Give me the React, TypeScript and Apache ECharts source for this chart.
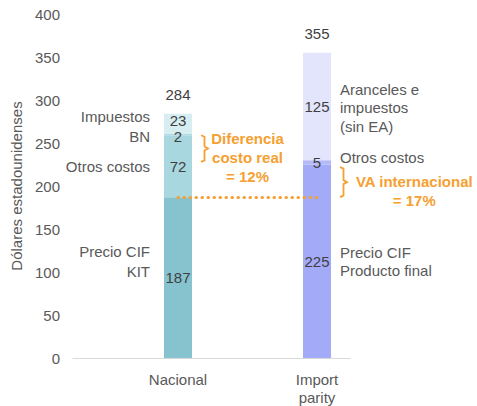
import React, { useEffect, useRef } from "react";
import * as echarts from "echarts";

// Cost build-up per route (US$), stacked bottom to top
const categories = ["Nacional", "Import\nparity"];
const nacionalSegments = ["Precio CIF KIT", "Otros costos", "BN", "Impuestos"];
const nacionalValues = [187, 72, 2, 23];
const importSegments = ["Precio CIF Producto final", "Otros costos", "Aranceles e impuestos (sin EA)"];
const importValues = [225, 5, 125];
const yAxisName = "Dólares estadounidenses";
const yMin = 0;
const yMax = 400;
const yStep = 50;

const nacionalColors = ["#86c3ce", "#a9d7df", "#b2dce3", "#d6edf1"];
const importColors = ["#a3abf8", "#b3b9f9", "#e3e5fd"];

const FONT = "'Liberation Sans', Arial, Helvetica, sans-serif";
const GRAY = "#595959";
const DARK = "#3f3f3f";
const ORANGE = "#f5a030";
const FS = 15;

const sum = (a: number[]) => a.reduce((s, v) => s + v, 0);
const totals = [sum(nacionalValues), sum(importValues)];

export default function App() {
  const ref = useRef<HTMLDivElement>(null);

  useEffect(() => {
    if (!ref.current) return;
    const chart = echarts.init(ref.current, null, { renderer: "svg" });

    // the two thin top segments of the Nacional bar spread their values apart
    const nacionalLabelShift = [0, 0, 2.5, -3];

    const levels = Math.max(nacionalValues.length, importValues.length);
    const stackSeries = Array.from({ length: levels }, (_, i) => ({
      type: "bar",
      name: `${nacionalSegments[i] ?? ""} / ${importSegments[i] ?? ""}`,
      xAxisIndex: 1,
      yAxisIndex: 1,
      stack: "total",
      barWidth: 28,
      data: [
        nacionalValues[i] != null
          ? {
              value: nacionalValues[i],
              itemStyle: { color: nacionalColors[i] },
              label: { offset: [0, nacionalLabelShift[i] ?? 0] },
            }
          : "-",
        importValues[i] != null
          ? { value: importValues[i], itemStyle: { color: importColors[i] } }
          : "-",
      ],
      label: {
        show: true,
        position: "inside",
        formatter: (p: any) => String(p.value),
        color: DARK,
        fontSize: FS,
        fontFamily: FONT,
        lineHeight: 14,
      },
      emphasis: { disabled: true },
    }));

    // Zero-height cap carrying the totals and the CIF reference line
    const totalSeries = {
      type: "bar",
      name: "Total",
      xAxisIndex: 1,
      yAxisIndex: 1,
      stack: "total",
      barWidth: 28,
      data: categories.map(() => 0),
      itemStyle: { color: "rgba(0,0,0,0)" },
      label: {
        show: true,
        position: "top",
        distance: 12,
        formatter: (p: any) => String(totals[p.dataIndex]),
        color: DARK,
        fontSize: FS,
        fontFamily: FONT,
      },
      emphasis: { disabled: true },
      markLine: {
        silent: true,
        symbol: "none",
        label: { show: false },
        lineStyle: { color: ORANGE, width: 3, type: [0.5, 5.5], cap: "round" },
        data: [[{ coord: [0, nacionalValues[0]] }, { coord: [1, nacionalValues[0]] }]],
      },
    };

    const top = 14;
    const bottom = 48;

    chart.setOption({
      animation: false,
      textStyle: { fontFamily: FONT },
      grid: [
        // frame grid: value scale and baseline
        { left: 73, right: 127, top, bottom, containLabel: false },
        // bar grid: one band per route
        { left: 108.5, right: 90.5, top, bottom, containLabel: false },
      ],
      xAxis: [
        {
          type: "value",
          gridIndex: 0,
          min: 0,
          max: 1,
          splitLine: { show: false },
          axisTick: { show: false },
          axisLabel: { show: false },
          axisLine: { show: true, onZero: false, lineStyle: { color: "#d9d9d9", width: 1.2 } },
        },
        {
          type: "category",
          gridIndex: 1,
          data: categories,
          axisLine: { show: false },
          axisTick: { show: false },
          splitLine: { show: false },
          axisLabel: {
            color: GRAY,
            fontSize: FS,
            fontFamily: FONT,
            lineHeight: 18,
            margin: 12,
          },
        },
      ],
      yAxis: [
        {
          type: "value",
          gridIndex: 0,
          min: yMin,
          max: yMax,
          interval: yStep,
          name: yAxisName,
          nameLocation: "middle",
          nameGap: 46,
          nameTextStyle: { color: GRAY, fontSize: FS, fontFamily: FONT },
          splitLine: { show: false },
          axisTick: { show: false },
          axisLine: { show: false, onZero: false },
          axisLabel: { color: GRAY, fontSize: FS, fontFamily: FONT, margin: 13 },
        },
        {
          type: "value",
          gridIndex: 1,
          min: yMin,
          max: yMax,
          interval: yStep,
          show: false,
          splitLine: { show: false },
        },
      ],
      series: [...stackSeries, totalSeries],
    });

    const px = (c: number, v: number) =>
      chart.convertToPixel({ xAxisIndex: 1, yAxisIndex: 1 }, [c, v]) as number[];

    const text = (t: string, x: number, y: number, align: string, opts: any = {}) => ({
      type: "text",
      x,
      y,
      silent: true,
      style: {
        text: t,
        align,
        verticalAlign: "middle",
        fill: opts.fill ?? GRAY,
        font: `${opts.bold ? "bold " : ""}${FS}px ${FONT}`,
        lineHeight: opts.lineHeight ?? 18,
      },
    });

    const brace = (x: number, yTop: number, yBot: number) => {
      const mid = (yTop + yBot) / 2;
      return {
        type: "polyline",
        silent: true,
        shape: {
          points: [
            [x, yTop],
            [x + 3.5, yTop + 1.5],
            [x + 3.5, mid - 2],
            [x + 7, mid],
            [x + 3.5, mid + 2],
            [x + 3.5, yBot - 1.5],
            [x, yBot],
          ],
        },
        style: { stroke: ORANGE, lineWidth: 1.8, fill: null },
      };
    };

    const nx = px(0, 0)[0];
    const ix = px(1, 0)[0];
    const yy = (v: number) => px(0, v)[1];
    const leftEdge = nx - 28;
    const rightEdge = ix + 23;

    chart.setOption({
      graphic: [
        // segment names, Nacional (left of bar)
        text("Impuestos", leftEdge, yy(281), "right"),
        text("BN", leftEdge, yy(258), "right"),
        text("Otros costos", leftEdge, yy(223), "right"),
        text("Precio CIF\nKIT", leftEdge, yy(112), "right", { lineHeight: 20 }),
        // segment names, Import parity (right of bar)
        text("Aranceles e\nimpuestos\n(sin EA)", rightEdge, yy(291), "left", { lineHeight: 18.5 }),
        text("Otros costos", rightEdge, yy(233), "left"),
        text("Precio CIF\nProducto final", rightEdge, yy(112), "left", { lineHeight: 18 }),
        // gap annotations
        brace(nx + 23, yy(259), yy(228)),
        text("Diferencia\ncosto real\n= 12%", (nx + ix) / 2, yy(233), "center", {
          fill: ORANGE,
          bold: true,
          lineHeight: 19,
        }),
        brace(ix + 23, yy(222), yy(187)),
        text("VA internacional\n= 17%", ix + 0.7 * (ix - nx), yy(194), "center", {
          fill: ORANGE,
          bold: true,
          lineHeight: 19,
        }),
      ],
    });

    return () => chart.dispose();
  }, []);

  return (
    <div
      ref={ref}
      style={{ position: "absolute", left: 0, top: 0, width: 477, height: 406, background: "#ffffff" }}
    />
  );
}
